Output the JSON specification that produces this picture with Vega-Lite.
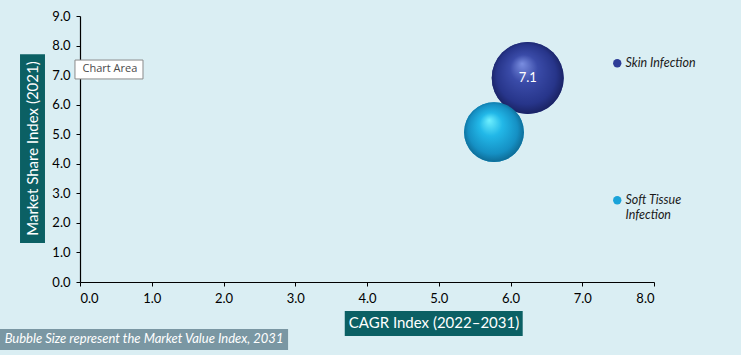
{
  "$schema": "https://vega.github.io/schema/vega-lite/v6.json",
  "width": 574,
  "height": 266,
  "autosize": {"type": "none"},
  "padding": {"left": 80, "top": 16, "right": 87, "bottom": 73},
  "background": "#daeef3",
  "config": {
    "view": {"stroke": null},
    "font": "Lato",
    "axis": {"grid": false, "domainColor": "#000000", "tickColor": "#000000", "labelColor": "#000000", "labelFontSize": 13, "labelFont": "Lato", "tickSize": 4, "domainWidth": 1.2, "zindex": 1, "labelPadding": 6}
  },
  "data": {"values": [
    {"series": "Skin Infection", "cagr": 6.24, "share": 6.9, "value": 7.1},
    {"series": "Soft Tissue Infection", "cagr": 5.77, "share": 5.07, "value": 4.9}
  ]},
  "layer": [
    {
      "mark": {"type": "circle", "opacity": 1},
      "encoding": {
        "x": {"field": "cagr", "type": "quantitative", "scale": {"domain": [0, 8], "nice": false},
          "axis": {"values": [0, 1, 2, 3, 4, 5, 6, 7, 8], "format": ".1f", "title": null}},
        "y": {"field": "share", "type": "quantitative", "scale": {"domain": [0, 9], "nice": false},
          "axis": {"values": [0, 1, 2, 3, 4, 5, 6, 7, 8, 9], "format": ".1f", "title": null}},
        "size": {"field": "value", "type": "quantitative", "scale": {"type": "linear", "domain": [0, 7.1], "range": [0, 5184]}, "legend": null},
        "color": {"field": "series", "type": "nominal",
          "scale": {"domain": ["Skin Infection", "Soft Tissue Infection"], "range": ["#2e3d97", "#1aa3d9"]},
          "legend": {"title": null, "orient": "none", "legendX": 531, "legendY": 41, "symbolType": "circle", "symbolSize": 70, "labelFontSize": 12.5, "labelFontStyle": "italic", "labelFontWeight": "normal", "labelColor": "#1a1a1a", "labelFont": "Lato", "rowPadding": 124, "labelOffset": 2, "labelBaseline": "middle",
            "labelExpr": "datum.label == 'Soft Tissue Infection' ? ['Soft Tissue', 'Infection'] : datum.label",
            "encode": {"labels": {"update": {"lineHeight": {"value": 16}, "dy": {"signal": "datum.label == 'Soft Tissue Infection' ? 8 : 0"}}}}}}
      }
    },
    {
      "data": {"values": [{}]},
      "mark": {"type": "rect", "color": "#0b6064"},
      "encoding": {
        "x": {"datum": 3.69, "type": "quantitative", "axis": {"values": [0, 1, 2, 3, 4, 5, 6, 7, 8], "format": ".1f", "title": null}},
        "x2": {"datum": 6.17},
        "y": {"datum": -0.98, "type": "quantitative", "axis": {"values": [0, 1, 2, 3, 4, 5, 6, 7, 8, 9], "format": ".1f", "title": null}},
        "y2": {"datum": -1.83}
      }
    },
    {
      "data": {"values": [{"t": "CAGR Index (2022–2031)"}]},
      "mark": {"type": "text", "color": "#ffffff", "fontSize": 15, "font": "Lato", "align": "center", "baseline": "middle"},
      "encoding": {
        "x": {"datum": 4.934, "type": "quantitative", "axis": {"values": [0, 1, 2, 3, 4, 5, 6, 7, 8], "format": ".1f", "title": null}},
        "y": {"datum": -1.404, "type": "quantitative", "axis": {"values": [0, 1, 2, 3, 4, 5, 6, 7, 8, 9], "format": ".1f", "title": null}},
        "text": {"field": "t"}
      }
    },
    {
      "data": {"values": [{}]},
      "mark": {"type": "rect", "color": "#0b6064"},
      "encoding": {
        "x": {"datum": -0.836, "type": "quantitative", "axis": {"values": [0, 1, 2, 3, 4, 5, 6, 7, 8], "format": ".1f", "title": null}},
        "x2": {"datum": -0.488},
        "y": {"datum": 7.71, "type": "quantitative", "axis": {"values": [0, 1, 2, 3, 4, 5, 6, 7, 8, 9], "format": ".1f", "title": null}},
        "y2": {"datum": 1.32}
      }
    },
    {
      "data": {"values": [{"t": "Market Share Index (2021)"}]},
      "mark": {"type": "text", "color": "#ffffff", "fontSize": 15, "font": "Lato", "align": "center", "baseline": "middle", "angle": 270},
      "encoding": {
        "x": {"datum": -0.662, "type": "quantitative", "axis": {"values": [0, 1, 2, 3, 4, 5, 6, 7, 8], "format": ".1f", "title": null}},
        "y": {"datum": 4.516, "type": "quantitative", "axis": {"values": [0, 1, 2, 3, 4, 5, 6, 7, 8, 9], "format": ".1f", "title": null}},
        "text": {"field": "t"}
      }
    },
    {
      "data": {"values": [{}]},
      "mark": {"type": "rect", "color": "#7a97a3"},
      "encoding": {
        "x": {"datum": -1.115, "type": "quantitative", "axis": {"values": [0, 1, 2, 3, 4, 5, 6, 7, 8], "format": ".1f", "title": null}},
        "x2": {"datum": 2.9},
        "y": {"datum": -1.59, "type": "quantitative", "axis": {"values": [0, 1, 2, 3, 4, 5, 6, 7, 8, 9], "format": ".1f", "title": null}},
        "y2": {"datum": -2.3}
      }
    },
    {
      "data": {"values": [{"note": "Bubble Size represent the Market Value Index, 2031"}]},
      "mark": {"type": "text", "color": "#ffffff", "fontStyle": "italic", "fontSize": 13, "align": "left", "baseline": "middle", "font": "Lato"},
      "encoding": {
        "x": {"datum": -1.05, "type": "quantitative", "axis": {"values": [0, 1, 2, 3, 4, 5, 6, 7, 8], "format": ".1f", "title": null}},
        "y": {"datum": -1.945, "type": "quantitative", "axis": {"values": [0, 1, 2, 3, 4, 5, 6, 7, 8, 9], "format": ".1f", "title": null}},
        "text": {"field": "note"}
      }
    },
    {
      "mark": {"type": "circle", "opacity": 1},
      "encoding": {
        "x": {"field": "cagr", "type": "quantitative", "axis": {"values": [0, 1, 2, 3, 4, 5, 6, 7, 8], "format": ".1f", "title": null}},
        "y": {"field": "share", "type": "quantitative", "axis": {"values": [0, 1, 2, 3, 4, 5, 6, 7, 8, 9], "format": ".1f", "title": null}},
        "size": {"field": "value", "type": "quantitative", "legend": null},
        "fill": {
          "condition": {"test": "datum.series == 'Skin Infection'", "value": {"gradient": "radial", "x1": 0.42, "y1": 0.3, "r1": 0, "x2": 0.5, "y2": 0.5, "r2": 0.55,
            "stops": [{"offset": 0, "color": "#7a8ee0"}, {"offset": 0.35, "color": "#3a4ba8"}, {"offset": 0.75, "color": "#27358a"}, {"offset": 1, "color": "#151c55"}]}},
          "value": {"gradient": "radial", "x1": 0.42, "y1": 0.3, "r1": 0, "x2": 0.5, "y2": 0.5, "r2": 0.55,
            "stops": [{"offset": 0, "color": "#6ff0ff"}, {"offset": 0.35, "color": "#22b8e8"}, {"offset": 0.75, "color": "#1590c4"}, {"offset": 1, "color": "#0c5f86"}]}
        }
      }
    },
    {
      "transform": [{"filter": "datum.series == 'Skin Infection'"}],
      "mark": {"type": "text", "color": "#ffffff", "fontSize": 13, "font": "Lato", "baseline": "middle", "align": "center"},
      "encoding": {
        "x": {"field": "cagr", "type": "quantitative", "axis": {"values": [0, 1, 2, 3, 4, 5, 6, 7, 8], "format": ".1f", "title": null}},
        "y": {"field": "share", "type": "quantitative", "axis": {"values": [0, 1, 2, 3, 4, 5, 6, 7, 8, 9], "format": ".1f", "title": null}},
        "text": {"field": "value", "type": "quantitative", "format": ".1f"}
      }
    },
    {
      "data": {"values": [{}]},
      "mark": {"type": "rect", "fill": "#ffffff", "stroke": "#8a8a8a", "strokeWidth": 1, "zindex": 2},
      "encoding": {
        "x": {"datum": -0.07, "type": "quantitative", "axis": {"values": [0, 1, 2, 3, 4, 5, 6, 7, 8], "format": ".1f", "title": null}},
        "x2": {"datum": 0.878},
        "y": {"datum": 7.51, "type": "quantitative", "axis": {"values": [0, 1, 2, 3, 4, 5, 6, 7, 8, 9], "format": ".1f", "title": null}},
        "y2": {"datum": 6.87}
      }
    },
    {
      "data": {"values": [{"t": "Chart Area"}]},
      "mark": {"type": "text", "color": "#4a4a4a", "fontSize": 11, "font": "Open Sans", "align": "left", "baseline": "middle", "zindex": 3},
      "encoding": {
        "x": {"datum": 0.035, "type": "quantitative", "axis": {"values": [0, 1, 2, 3, 4, 5, 6, 7, 8], "format": ".1f", "title": null}},
        "y": {"datum": 7.19, "type": "quantitative", "axis": {"values": [0, 1, 2, 3, 4, 5, 6, 7, 8, 9], "format": ".1f", "title": null}},
        "text": {"field": "t"}
      }
    }
  ]
}
